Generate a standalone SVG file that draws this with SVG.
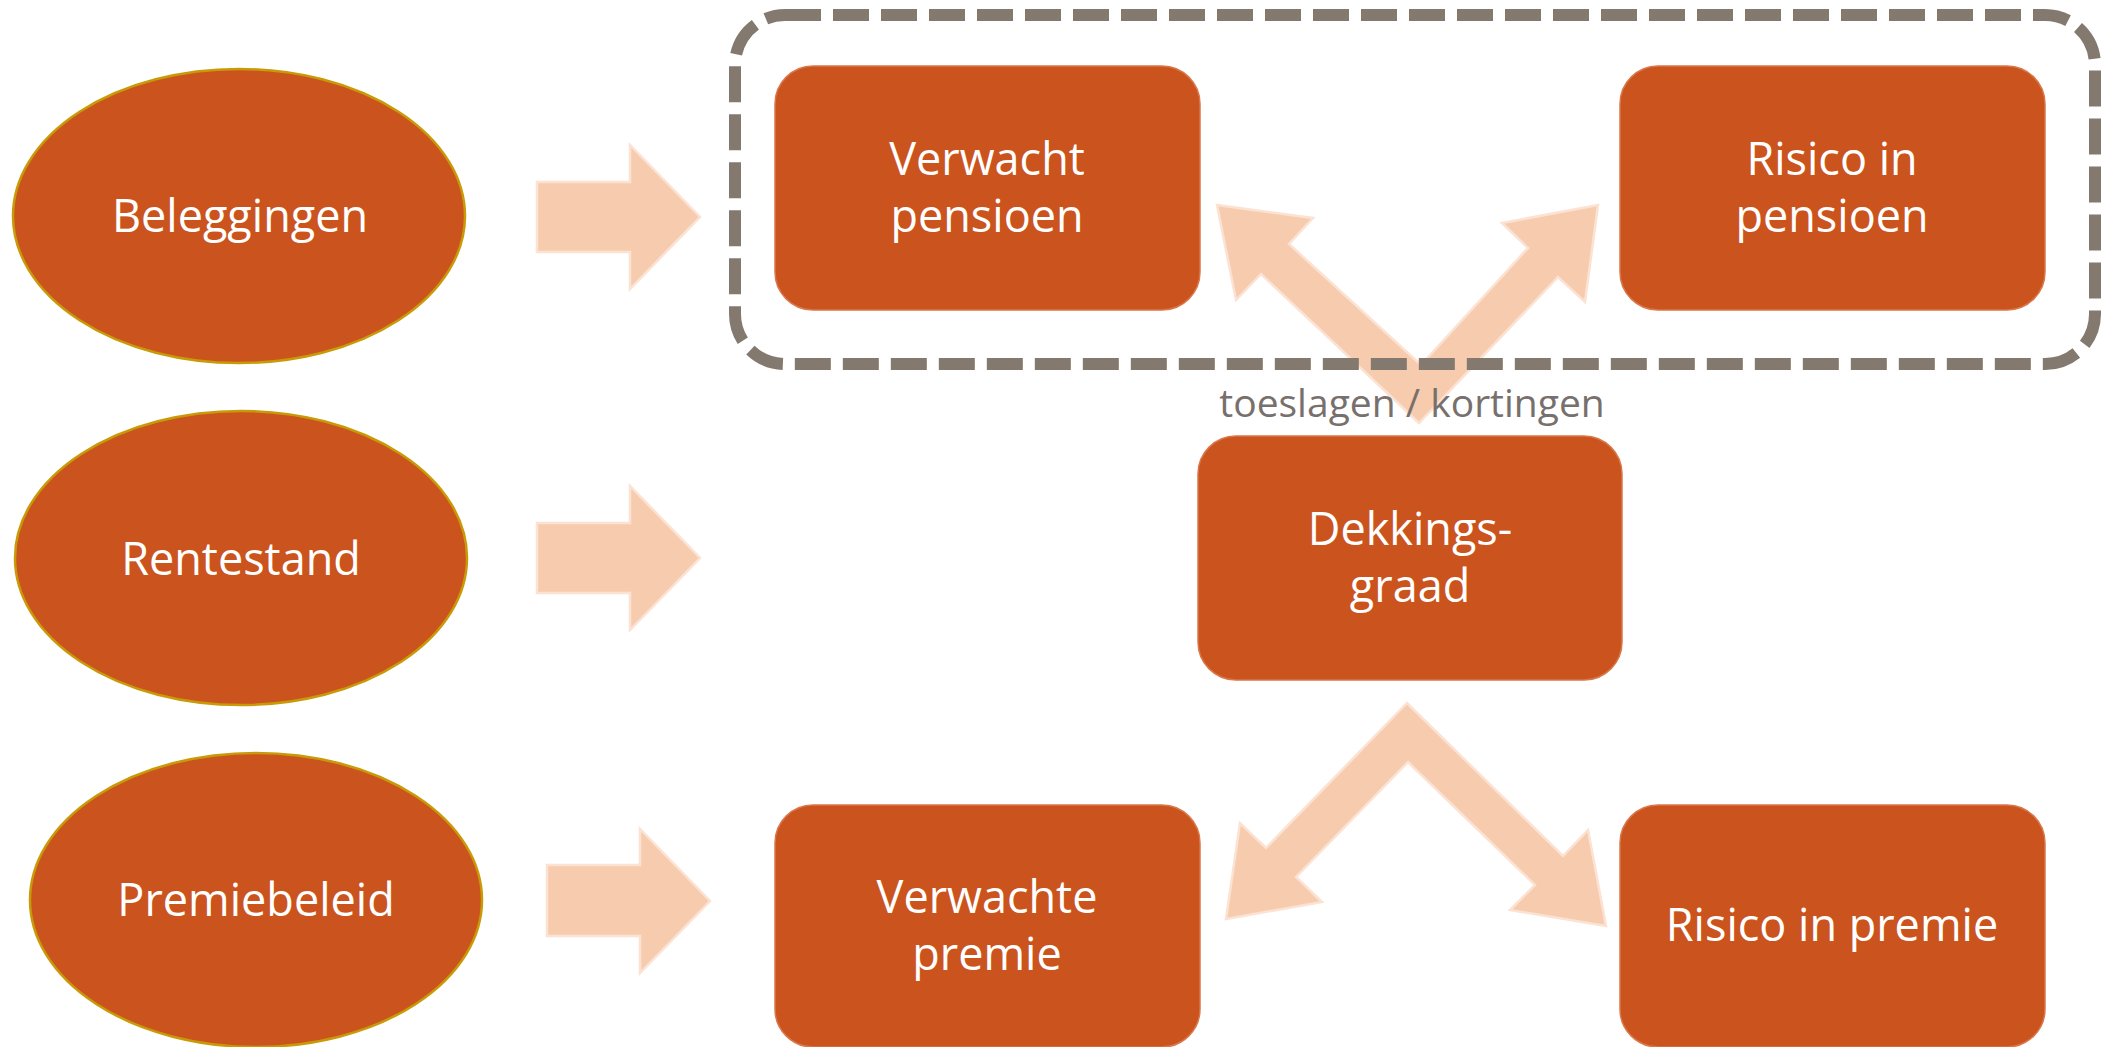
<svg xmlns="http://www.w3.org/2000/svg" width="2104" height="1047" viewBox="0 0 2104 1047">
  <style>
    .ell { fill: #CB531D; stroke: #C99A08; stroke-width: 2.5; }
    .box { fill: #CB531D; stroke: #D9774A; stroke-width: 1.5; }
    .lbl { font-family: "Open Sans", "Noto Sans", "Liberation Sans", sans-serif; font-size: 45px; font-weight: 500; fill: #FFFFFF; text-anchor: middle; }
    .arr { fill: #F7CBAE; stroke: #FBE2D2; stroke-width: 2.5; stroke-linejoin: miter; }
    .grp { fill: none; stroke: #84796F; stroke-width: 12; stroke-dasharray: 36 12; }
    .note { font-family: "Open Sans", "Noto Sans", "Liberation Sans", sans-serif; font-size: 39px; font-weight: 500; fill: #77706C; text-anchor: middle; }
  </style>
  <rect width="2104" height="1047" fill="#FFFFFF"/>

  <g id="connectors">
    <polygon class="arr" points="537,182 630,182 630,145 700,217 630,289 630,252 537,252"/>
    <polygon class="arr" points="537,523 630,523 630,486 700,558 630,630 630,593 537,593"/>
    <polygon class="arr" points="547,865 640,865 640,829 710,901 640,973 640,936 547,936"/>
    <polygon class="arr" points="1419,423 1261,274 1236,300 1217,205 1313,218 1289,244 1421,365 1528,248 1502,223 1598,205 1585,302 1558,277"/>
    <polygon class="arr" points="1407,703 1266,848 1240,823 1226,919 1322,902 1296,877 1408,762 1535,885 1510,910 1606,926 1588,830 1563,856"/>
  </g>

  <g id="group-pensioen">
    <rect class="grp" x="735" y="15" width="1360" height="349" rx="50" ry="50"/>
  </g>

  <g id="node-beleggingen">
    <ellipse class="ell" cx="239" cy="216" rx="226" ry="147"/>
    <text class="lbl" x="240" y="232">Beleggingen</text>
  </g>
  <g id="node-rentestand">
    <ellipse class="ell" cx="241" cy="558" rx="226" ry="147"/>
    <text class="lbl" x="241" y="575">Rentestand</text>
  </g>
  <g id="node-premiebeleid">
    <ellipse class="ell" cx="256" cy="900" rx="226" ry="147"/>
    <text class="lbl" x="256" y="916">Premiebeleid</text>
  </g>

  <g id="node-verwacht-pensioen">
    <rect class="box" x="775" y="66" width="425" height="244" rx="38" ry="38"/>
    <text class="lbl" x="987" y="175">Verwacht</text>
    <text class="lbl" x="987" y="232">pensioen</text>
  </g>
  <g id="node-risico-pensioen">
    <rect class="box" x="1620" y="66" width="425" height="244" rx="38" ry="38"/>
    <text class="lbl" x="1832" y="175">Risico in</text>
    <text class="lbl" x="1832" y="232">pensioen</text>
  </g>
  <g id="node-dekkingsgraad">
    <rect class="box" x="1198" y="436" width="424" height="244" rx="38" ry="38"/>
    <text class="lbl" x="1410" y="545">Dekkings-</text>
    <text class="lbl" x="1410" y="602">graad</text>
  </g>
  <g id="node-verwachte-premie">
    <rect class="box" x="775" y="805" width="425" height="242" rx="38" ry="38"/>
    <text class="lbl" x="987" y="913">Verwachte</text>
    <text class="lbl" x="987" y="970">premie</text>
  </g>
  <g id="node-risico-premie">
    <rect class="box" x="1620" y="805" width="425" height="242" rx="38" ry="38"/>
    <text class="lbl" x="1832" y="941">Risico in premie</text>
  </g>

  <g id="label-toeslagen">
    <text class="note" x="1412" y="417">toeslagen / kortingen</text>
  </g>
</svg>
